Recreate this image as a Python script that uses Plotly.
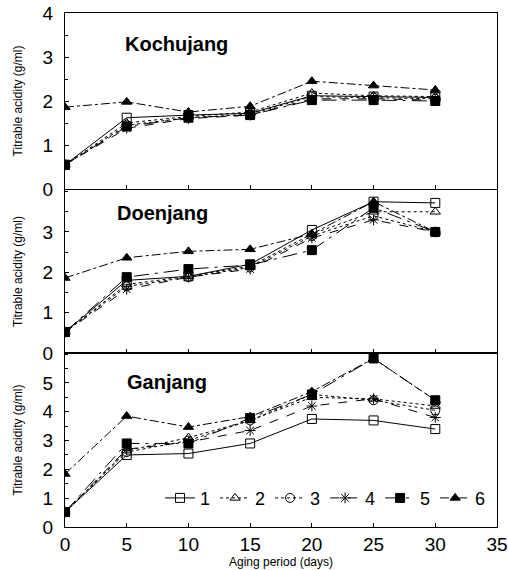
import plotly.graph_objects as go

days = [0, 5, 10, 15, 20, 25, 30]
series_names = ["1", "2", "3", "4", "5", "6"]
panel_titles = ["Kochujang", "Doenjang", "Ganjang"]

kochujang = [
    [0.55, 1.62, 1.68, 1.72, 2.12, 2.10, 2.08],
    [0.55, 1.50, 1.65, 1.75, 2.18, 2.12, 2.10],
    [0.55, 1.45, 1.62, 1.70, 2.10, 2.08, 2.05],
    [0.55, 1.38, 1.60, 1.68, 2.05, 2.05, 2.02],
    [0.55, 1.42, 1.62, 1.68, 2.02, 2.02, 2.00],
    [1.86, 1.98, 1.75, 1.88, 2.45, 2.35, 2.25],
]
doenjang = [
    [0.52, 1.80, 1.90, 2.20, 3.05, 3.75, 3.72],
    [0.52, 1.70, 1.90, 2.15, 2.95, 3.50, 3.50],
    [0.52, 1.65, 1.88, 2.12, 2.90, 3.40, 3.00],
    [0.52, 1.58, 1.88, 2.08, 2.85, 3.30, 3.00],
    [0.52, 1.88, 2.08, 2.18, 2.55, 3.60, 3.00],
    [1.86, 2.36, 2.52, 2.57, 2.95, 3.75, 3.00],
]
ganjang = [
    [0.52, 2.50, 2.55, 2.90, 3.75, 3.70, 3.40],
    [0.52, 2.65, 3.10, 3.70, 4.50, 4.45, 4.20],
    [0.52, 2.60, 3.00, 3.70, 4.60, 4.40, 4.05],
    [0.52, 2.70, 2.95, 3.35, 4.20, 4.45, 3.80],
    [0.52, 2.90, 2.90, 3.78, 4.60, 5.85, 4.40],
    [1.84, 3.85, 3.47, 3.83, 4.70, 5.85, 4.40],
]

symbols = ["square-open", "triangle-up-open", "circle-open", "asterisk-open", "square", "triangle-up"]
dashes = ["solid", "dot", "dot", "dash", "longdashdot", "dashdot"]

FONT = "Liberation Sans, Arial, sans-serif"
fig = go.Figure()

panels = [(kochujang, "y", "x3"), (doenjang, "y2", "x2"), (ganjang, "y3", "x")]
for pi, (data, yax, xax) in enumerate(panels):
    for si, vals in enumerate(data):
        fig.add_trace(go.Scatter(
            x=days, y=vals, xaxis=xax, yaxis=yax,
            mode="lines+markers", name=series_names[si],
            showlegend=(pi == 2),
            line=dict(color="black", width=1, dash=dashes[si]),
            marker=dict(symbol=symbols[si], size=9, color="black",
                        line=dict(color="black", width=1)),
        ))

axis_common = dict(showline=True, linecolor="black", linewidth=1, mirror=True,
                   showgrid=False, zeroline=False, ticks="inside", ticklen=4,
                   tickcolor="black", automargin=False,
                   tickfont=dict(size=19, family=FONT, color="black"))
ytitle = dict(text="Titrable acidity (g/ml)", font=dict(size=12, family=FONT, color="black"), standoff=17)

H = 514.0
d_bot = [0, 174 / H]
d_mid = [174 / H, 337 / H]
d_top = [338 / H, 1]
minor = dict(ticks="inside", ticklen=3, dtick=0.5, tickcolor="black")

fig.update_layout(
    width=508, height=570,
    margin=dict(l=65, r=11, t=13, b=43, autoexpand=False),
    paper_bgcolor="white", plot_bgcolor="white",
    font=dict(family=FONT, color="black"),
    xaxis=dict(**axis_common, range=[0, 35], domain=[0, 1], anchor="y3", dtick=5,
               ticklabelstandoff=0,
               title=dict(text="Aging period (days)", font=dict(size=12, family=FONT), standoff=0)),
    xaxis2=dict(**axis_common, range=[0, 35], domain=[0, 1], anchor="y2", dtick=5, showticklabels=False),
    xaxis3=dict(**axis_common, range=[0, 35], domain=[0, 1], anchor="y", dtick=5, showticklabels=False),
    yaxis=dict(**axis_common, range=[0, 4], domain=d_top, anchor="x3", tickvals=[0, 1, 2, 3, 4],
               ticklabelstandoff=7, title=ytitle, minor=minor),
    yaxis2=dict(**axis_common, range=[0, 4.04], domain=d_mid, anchor="x2", tickvals=[0, 1, 2, 3],
                ticklabelstandoff=7, title=ytitle, minor=minor),
    yaxis3=dict(**axis_common, range=[0, 6.04], domain=d_bot, anchor="x", tickvals=[0, 1, 2, 3, 4, 5],
                ticklabelstandoff=7, title=ytitle, minor=minor),
    legend=dict(orientation="h", x=0.22, y=0.056, xanchor="left", yanchor="middle",
                bgcolor="rgba(0,0,0,0)", font=dict(size=18, family=FONT),
                itemwidth=30, tracegroupgap=0),
)

title_pos = [(0.134, 0.94), (0.116, 0.611), (0.139, 0.282)]
for t, (tx, ty) in zip(panel_titles, title_pos):
    fig.add_annotation(text="<b>%s</b>" % t, x=tx, y=ty, xref="paper", yref="paper",
                       xanchor="left", yanchor="middle",
                       showarrow=False, font=dict(size=20, family=FONT, color="black"))

fig.write_html("out.html", config={"displayModeBar": False},
               post_script="document.body.style.margin='0';document.body.style.overflow='hidden';")
